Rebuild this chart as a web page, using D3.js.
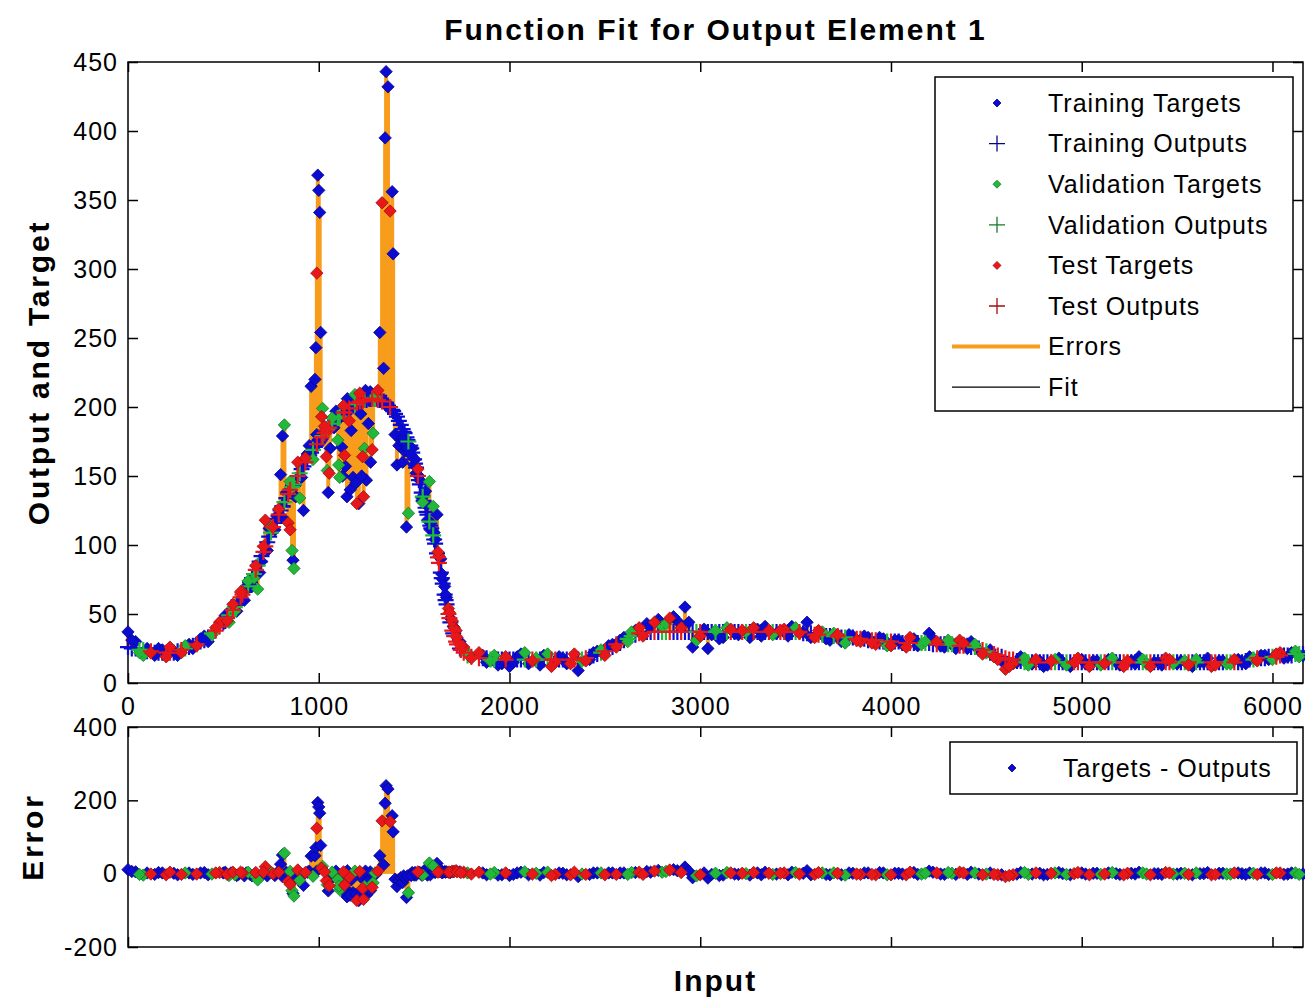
<!DOCTYPE html>
<html>
<head>
    <meta charset="UTF-8">
    <title>Function Fit for Output Element 1</title>
    <style>
        body { margin: 0; background: #fff; }
        text { font-family: Arial, "Liberation Sans", sans-serif; fill: #000; }
        .tick text { font-size: 25px; letter-spacing: 1px; }
        .lab { font-size: 30px; font-weight: bold; letter-spacing: 2px; }
        .ylab { letter-spacing: 2.8px; }
        .leg { font-size: 25px; letter-spacing: 1px; }
    </style>
</head>
<body>
<script src="https://d3js.org/d3.v7.min.js"></script>
<script>
    // tick labels
    var xTicks = [0, 1000, 2000, 3000, 4000, 5000, 6000];
    var yTicksFit = [0, 50, 100, 150, 200, 250, 300, 350, 400, 450];
    var yTicksErr = [-200, 0, 200, 400];

    // samples: input, network output (fit), target, and which set it went to
    // t = training, v = validation, r = test
    var inputs = [
        0, 40, 80, 120, 160, 200, 240, 280, 320, 360, 400, 440, 480,
        // peak region (denser)
        500, 520, 540, 560, 580, 600, 620, 640, 660, 680,
        700, 720, 740, 760, 780, 800, 810, 820, 840, 850,
        860, 865, 870, 880, 900, 920, 940, 960, 980, 985,
        990, 995, 1000, 1005, 1010, 1015, 1020, 1040, 1045, 1050,
        1055, 1060, 1080, 1100, 1110, 1120, 1140, 1148, 1160, 1170,
        1180, 1200, 1210, 1220, 1230, 1235, 1250, 1260, 1280, 1285,
        1300, 1320, 1332, 1340, 1348, 1353, 1363, 1374, 1385, 1390,
        1400, 1410, 1420, 1430, 1440, 1450, 1460, 1470, 1480, 1490,
        1500, 1510, 1520, 1530, 1540, 1550, 1560, 1570, 1580, 1590,
        1600, 1610, 1620, 1630, 1640, 1650, 1660, 1670, 1680, 1690,
        1700, 1710, 1720, 1740, 1760, 1780, 1800,
        // tail
        1840, 1880, 1920, 1960, 2000, 2040, 2080, 2120, 2160, 2200,
        2240, 2280, 2320, 2360, 2400, 2440, 2480, 2520, 2560, 2600,
        2640, 2680, 2720, 2760, 2800, 2840, 2880, 2920, 2960, 3000,
        3040, 3080, 3120, 3160, 3200, 3240, 3280, 3320, 3360, 3400,
        3440, 3480, 3520, 3560, 3600, 3640, 3680, 3720, 3760, 3800,
        3840, 3880, 3920, 3960, 4000, 4040, 4080, 4120, 4160, 4200,
        4240, 4280, 4320, 4360, 4400, 4440, 4480, 4520, 4560, 4600,
        4640, 4680, 4720, 4760, 4800, 4840, 4880, 4920, 4960, 5000,
        5040, 5080, 5120, 5160, 5200, 5240, 5280, 5320, 5360, 5400,
        5440, 5480, 5520, 5560, 5600, 5640, 5680, 5720, 5760, 5800,
        5840, 5880, 5920, 5960, 6000, 6040, 6080, 6120, 6160,
        // in-between samples
        20, 60, 100, 140, 180, 220, 260, 300, 340, 380, 420, 460,
        1860, 1900, 1940, 1980, 2020, 2060, 2100, 2140, 2180, 2220,
        2260, 2300, 2340, 2380, 2420, 2460, 2500, 2540, 2580, 2620,
        2660, 2700, 2740, 2780, 2820, 2860, 2900, 2940, 2980, 3020,
        3060, 3100, 3140, 3180, 3220, 3260, 3300, 3340, 3380, 3420,
        3460, 3500, 3540, 3580, 3620, 3660, 3700, 3740, 3780, 3820,
        3860, 3900, 3940, 3980, 4020, 4060, 4100, 4140, 4180, 4220,
        4260, 4300, 4340, 4380, 4420, 4460, 4500, 4540, 4580, 4620,
        4660, 4700, 4740, 4780, 4820, 4860, 4900, 4940, 4980, 5020,
        5060, 5100, 5140, 5180, 5220, 5260, 5300, 5340, 5380, 5420,
        5460, 5500, 5540, 5580, 5620, 5660, 5700, 5740, 5780, 5820,
        5860, 5900, 5940, 5980, 6020, 6060, 6100, 6140,
        // more samples on the hump
        510, 530, 550, 570, 590, 610, 630, 650, 670, 690,
        710, 730, 750, 770, 790, 810, 830, 850, 870, 890,
        910, 930, 950, 970, 990,
        1030, 1070, 1090, 1130, 1150, 1190, 1215, 1245, 1270, 1295, 1310,
        1445, 1465, 1485, 1505, 1525, 1545, 1565, 1585, 1605, 1625,
        1645, 1665, 1685, 1705, 1725, 1745,
        1105, 1125, 1135, 1165, 1195, 1225, 1240, 1272
    ];

    var outputs = [
        26, 25, 24, 23, 22, 22, 22, 24, 26, 28, 31, 36, 41,
        44, 47, 51, 55, 60, 64, 68, 73, 79, 85,
        92, 99, 106, 113, 119, 125, 128, 131, 137, 140,
        142, 143, 144, 147, 152, 157, 162, 167, 171, 172,
        173, 174, 175, 176, 177, 178, 179, 183, 184, 185,
        185, 186, 189, 192, 193, 195, 197, 198, 199, 200,
        201, 203, 203, 204, 204, 205, 205, 206, 206, 206,
        206, 205, 204, 204, 203, 203, 201, 200, 198, 197,
        195, 193, 190, 187, 184, 181, 178, 175, 172, 167,
        162, 156, 150, 144, 138, 132, 127, 122, 117, 112,
        107, 101, 94, 87, 80, 72, 64, 57, 50, 44,
        38, 34, 30, 25, 22, 20, 19,
        18, 18, 17, 17, 17, 17, 17, 17, 17, 17,
        17, 17, 17, 17, 18, 20, 22, 25, 28, 31,
        34, 36, 37, 37, 37, 37, 37, 37, 37, 37,
        37, 37, 37, 37, 37, 37, 37, 37, 37, 37,
        37, 37, 37, 36, 35, 35, 34, 34, 33, 33,
        32, 31, 31, 30, 30, 30, 29, 29, 29, 29,
        28, 28, 28, 27, 27, 26, 24, 22, 20, 18,
        17, 16, 15, 15, 15, 15, 15, 15, 15, 15,
        15, 15, 15, 15, 15, 15, 15, 15, 15, 15,
        15, 15, 15, 15, 15, 15, 15, 15, 15, 15,
        15, 17, 18, 18, 19, 20, 20, 21, 21,
        25, 24, 23, 22, 22, 22, 23, 25, 27, 30, 33, 38,
        18, 17, 17, 17, 17, 17, 17, 17, 17, 17,
        17, 17, 17, 17, 19, 21, 23, 26, 29, 32,
        35, 36, 37, 37, 37, 37, 37, 37, 37, 37,
        37, 37, 37, 37, 37, 37, 37, 37, 37, 37,
        37, 37, 36, 36, 35, 34, 34, 33, 33, 32,
        32, 31, 30, 30, 30, 29, 29, 29, 29, 28,
        28, 28, 27, 27, 26, 25, 23, 21, 19, 17,
        16, 15, 15, 15, 15, 15, 15, 15, 15, 15,
        15, 15, 15, 15, 15, 15, 15, 15, 15, 15,
        15, 15, 15, 15, 15, 15, 15, 15, 15, 15,
        16, 17, 18, 19, 19, 20, 20, 21,
        45, 49, 53, 57, 62, 66, 70, 76, 82, 88,
        95, 102, 109, 116, 122, 128, 134, 140, 144, 150,
        155, 160, 165, 169, 173,
        181, 188, 190, 196, 198, 202, 204, 205, 206, 206, 205,
        182, 176, 170, 159, 147, 135, 124, 114, 104, 91,
        76, 60, 47, 36, 28, 24,
        192, 195, 196, 199, 202, 204, 205, 206
    ];

    var targets = [
        37, 30, 20, 22, 25, 19, 23, 22, 28, 27, 34, 35, 44,
        46, 45, 53, 52, 58, 66, 70, 71, 76, 68,
        88, 118, 112, 113, 121, 151, 179, 187, 116, 111,
        96, 89, 83, 135, 134, 125, 166, 215, 220, 243,
        297, 368, 357, 341, 254, 193, 199, 164, 154, 138,
        152, 170, 185, 176, 149, 171, 157, 135, 190, 183,
        149, 130, 130, 195, 164, 135, 147, 188, 169, 181,
        205, 254, 348, 228, 395, 443, 432, 342, 356, 311,
        180, 158, 172, 176, 160, 168, 113, 123, 170, 170,
        158, 152, 155, 147, 134, 136, 139, 118, 146, 116,
        128, 104, 122, 92, 90, 75, 70, 62, 54, 47,
        45, 40, 38, 30, 26, 22, 18,
        22, 15, 20, 14, 12, 19, 22, 16, 13, 21,
        15, 18, 14, 9, 16, 22, 24, 27, 26, 33,
        37, 40, 43, 44, 41, 47, 45, 55, 26, 34,
        25, 38, 33, 39, 35, 37, 40, 34, 38, 36,
        39, 41, 36, 44, 33, 37, 31, 35, 29, 34,
        30, 33, 28, 32, 27, 31, 26, 32, 28, 36,
        30, 26, 29, 31, 25, 28, 21, 24, 17, 10,
        14, 19, 13, 17, 12, 16, 18, 13, 15, 17,
        12, 16, 14, 18, 13, 16, 14, 17, 12, 15,
        18, 14, 16, 13, 17, 15, 12, 16, 14, 17,
        15, 19, 16, 20, 17, 22, 19, 23, 20,
        31, 22, 25, 20, 24, 26, 20, 27, 25, 32, 30, 40,
        20, 16, 13, 19, 15, 21, 14, 18, 20, 12,
        19, 14, 21, 16, 17, 23, 20, 28, 31, 30,
        38, 34, 41, 46, 43, 48, 40, 44, 31, 39,
        35, 32, 40, 36, 38, 33, 39, 41, 35, 38,
        34, 40, 37, 33, 38, 32, 36, 30, 35, 31,
        34, 29, 33, 27, 31, 28, 33, 27, 30, 32,
        27, 31, 25, 29, 30, 24, 22, 19, 16, 12,
        15, 18, 14, 16, 13, 17, 15, 12, 18, 14,
        16, 13, 17, 15, 12, 16, 19, 14, 15, 13,
        17, 14, 16, 12, 15, 18, 13, 16, 14, 17,
        14, 18, 20, 17, 21, 18, 22, 19,
        49, 44, 57, 52, 66, 60, 74, 70, 85, 80,
        99, 96, 113, 111, 126, 120, 138, 146, 136, 160,
        149, 163, 172, 162, 180,
        186, 192, 197, 201, 206, 209, 210, 212, 211, 208, 212,
        176, 170, 165, 162, 150, 131, 129, 111, 109, 95,
        79, 64, 51, 41, 33, 27,
        158, 150, 165, 140, 145, 150, 170, 160
    ];

    var sets = ("ttvrtrtrtrtvr" +
        "trtvtrttvv" + "trtrtttvrr" + "vtvtvttttt" + "rttttrvrvt" + "rttvvtttrt" +
        "trttrrttrv" + "ttrttttrtt" + "tttttttvtt" + "ttrtttttvt" + "vttrttttrt" + "rrrtrvr" +
        "rtvtttvrtv" + "rtrtrtvtrt" + "vrtrvrtttr" + "tvtrtvrtrt" + "rtrtrvtrvt" +
        "rtrtrtrtvt" + "rtvrtvrtrr" + "rtvrtrtvrt" + "rtrvtrtvrt" + "rvtrvtrtvr" + "ttrtvrtvt" +
        "tvtttrtvtttr" +
        "tvtrtttvtr" + "ttrvttrttv" + "trttvtrtvt" + "ttvtrtttvr" + "tvttrtvttr" +
        "trtvttrtvt" + "tvtrttvrtr" + "tvtttvttrt" + "tvttrttvtt" + "rtvtttrtvt" + "tvttrttv" +
        "tvrtrtvtrt" + "rtvtrttvtr" + "trtvt" +
        "rvtrtvrttvr" +
        "tttttvtttr" + "ttrtrr" +
        "vtrtttvt").split("");

    var legendNames = ["Training Targets", "Training Outputs", "Validation Targets", "Validation Outputs",
        "Test Targets", "Test Outputs", "Errors", "Fit"];

    var fillColor = {t: "#0b0bd2", v: "#22b83a", r: "#e8171a"};
    var edgeColor = {t: "#05058a", v: "#167a26", r: "#9e0e10"};
    var orange = "#f89c1c";

    var width = 1305, height = 1004;
    var left = 128, right = 1303;
    var fitTop = 62, fitBottom = 683;
    var errTop = 727, errBottom = 947;

    var svg = d3.select("body").append("svg")
        .attr("width", width)
        .attr("height", height);

    var x = d3.scaleLinear().domain([0, 6160]).range([left, right]);
    var yFit = d3.scaleLinear().domain([0, 450]).range([fitBottom, fitTop]);
    var yErr = d3.scaleLinear().domain([-200, 400]).range([errBottom, errTop]);

    var idx = d3.range(inputs.length);
    var errors = idx.map(function (i) { return targets[i] - outputs[i]; });
    var order = ["t", "v", "r"];

    var diamond = function (r) { return "M0," + (-r) + "L" + r + ",0L0," + r + "L" + (-r) + ",0Z"; };
    var plus = function (r) { return "M" + (-r) + ",0H" + r + "M0," + (-r) + "V" + r; };

    function drawAxes(y, ticksY, top, bottom, xLabels) {
        var g = svg.append("g");
        g.append("g")
            .attr("transform", "translate(0," + bottom + ")")
            .call(d3.axisBottom(x).tickValues(xTicks).tickSize(-10).tickSizeOuter(0).tickPadding(14)
                .tickFormat(function (d) { return xLabels ? String(d) : ""; }));
        g.append("g")
            .attr("transform", "translate(0," + top + ")")
            .call(d3.axisTop(x).tickValues(xTicks).tickSize(-10).tickSizeOuter(0).tickFormat(""));
        g.append("g")
            .attr("transform", "translate(" + left + ",0)")
            .call(d3.axisLeft(y).tickValues(ticksY).tickSize(-10).tickSizeOuter(0).tickPadding(10)
                .tickFormat(function (d) { return String(d); }));
        g.append("g")
            .attr("transform", "translate(" + right + ",0)")
            .call(d3.axisRight(y).tickValues(ticksY).tickSize(-10).tickSizeOuter(0).tickFormat(""));
        g.selectAll(".domain").remove();
        g.selectAll(".tick line").attr("stroke", "#000").attr("stroke-width", 1.5);
        g.append("rect")
            .attr("x", left).attr("y", top)
            .attr("width", right - left).attr("height", bottom - top)
            .attr("fill", "none").attr("stroke", "#000").attr("stroke-width", 1.5);
    }

    // ---- top: function fit ----
    drawAxes(yFit, yTicksFit, fitTop, fitBottom, true);

    // errors: orange line from target to output
    svg.append("g").selectAll("line")
        .data(idx)
        .enter().append("line")
        .attr("x1", function (i) { return x(inputs[i]); })
        .attr("x2", function (i) { return x(inputs[i]); })
        .attr("y1", function (i) { return yFit(targets[i]); })
        .attr("y2", function (i) { return yFit(outputs[i]); })
        .attr("stroke", orange)
        .attr("stroke-width", 4);

    // fit line
    var sorted = idx.slice().sort(function (a, b) { return inputs[a] - inputs[b]; });
    svg.append("path")
        .datum(sorted)
        .attr("fill", "none")
        .attr("stroke", "#000")
        .attr("stroke-width", 1)
        .attr("d", d3.line()
            .x(function (i) { return x(inputs[i]); })
            .y(function (i) { return yFit(outputs[i]); }));

    // targets (dots) and outputs (+) for each set
    order.forEach(function (s) {
        var sel = idx.filter(function (i) { return sets[i] === s; });
        svg.append("g").selectAll("path")
            .data(sel)
            .enter().append("path")
            .attr("transform", function (i) { return "translate(" + x(inputs[i]) + "," + yFit(targets[i]) + ")"; })
            .attr("d", diamond(6.2))
            .attr("fill", fillColor[s])
            .attr("stroke", edgeColor[s])
            .attr("stroke-width", 0.8);
        svg.append("g").selectAll("path")
            .data(sel)
            .enter().append("path")
            .attr("transform", function (i) { return "translate(" + x(inputs[i]) + "," + yFit(outputs[i]) + ")"; })
            .attr("d", plus(8))
            .attr("fill", "none")
            .attr("stroke", fillColor[s])
            .attr("stroke-width", 2.2);
    });

    // legend
    var leg = svg.append("g");
    leg.append("rect")
        .attr("x", 935).attr("y", 77).attr("width", 358).attr("height", 334)
        .attr("fill", "#fff").attr("stroke", "#000").attr("stroke-width", 1.5);
    legendNames.forEach(function (name, k) {
        var ry = 103 + k * 40.6;
        var s = order[Math.floor(k / 2)];
        if (k < 6 && k % 2 === 0) {
            leg.append("path").attr("transform", "translate(997," + ry + ")")
                .attr("d", diamond(4)).attr("fill", fillColor[s]).attr("stroke", edgeColor[s]).attr("stroke-width", 0.8);
        } else if (k < 6) {
            leg.append("path").attr("transform", "translate(997," + ry + ")")
                .attr("d", plus(8)).attr("fill", "none").attr("stroke", edgeColor[s]).attr("stroke-width", 1.3);
        } else {
            leg.append("line").attr("x1", 952).attr("x2", 1040).attr("y1", ry).attr("y2", ry)
                .attr("stroke", k === 6 ? orange : "#000").attr("stroke-width", k === 6 ? 4 : 1.2);
        }
        leg.append("text").attr("class", "leg")
            .attr("x", 1048).attr("y", ry).attr("dy", "0.35em")
            .text(name);
    });

    // ---- bottom: errors ----
    drawAxes(yErr, yTicksErr, errTop, errBottom, false);

    svg.append("g").selectAll("line")
        .data(idx)
        .enter().append("line")
        .attr("x1", function (i) { return x(inputs[i]); })
        .attr("x2", function (i) { return x(inputs[i]); })
        .attr("y1", yErr(0))
        .attr("y2", function (i) { return yErr(errors[i]); })
        .attr("stroke", orange)
        .attr("stroke-width", 4);

    order.forEach(function (s) {
        svg.append("g").selectAll("path")
            .data(idx.filter(function (i) { return sets[i] === s; }))
            .enter().append("path")
            .attr("transform", function (i) { return "translate(" + x(inputs[i]) + "," + yErr(errors[i]) + ")"; })
            .attr("d", diamond(6.2))
            .attr("fill", fillColor[s])
            .attr("stroke", edgeColor[s])
            .attr("stroke-width", 0.8);
    });

    var leg2 = svg.append("g");
    leg2.append("rect")
        .attr("x", 950).attr("y", 742).attr("width", 347).attr("height", 52)
        .attr("fill", "#fff").attr("stroke", "#000").attr("stroke-width", 1.5);
    leg2.append("path").attr("transform", "translate(1012,768)")
        .attr("d", diamond(4)).attr("fill", fillColor.t).attr("stroke", edgeColor.t).attr("stroke-width", 0.8);
    leg2.append("text").attr("class", "leg")
        .attr("x", 1063).attr("y", 768).attr("dy", "0.35em")
        .text("Targets - Outputs");

    // titles
    svg.append("text").attr("class", "lab")
        .attr("x", (left + right) / 2).attr("y", 40)
        .attr("text-anchor", "middle")
        .text("Function Fit for Output Element 1");
    svg.append("text").attr("class", "lab")
        .attr("x", (left + right) / 2).attr("y", 991)
        .attr("text-anchor", "middle")
        .text("Input");
    svg.append("text").attr("class", "lab ylab")
        .attr("transform", "translate(49," + (fitTop + fitBottom) / 2 + ") rotate(-90)")
        .attr("text-anchor", "middle")
        .text("Output and Target");
    svg.append("text").attr("class", "lab ylab")
        .attr("transform", "translate(43," + (errTop + errBottom) / 2 + ") rotate(-90)")
        .attr("text-anchor", "middle")
        .text("Error");
</script>
</body>
</html>
